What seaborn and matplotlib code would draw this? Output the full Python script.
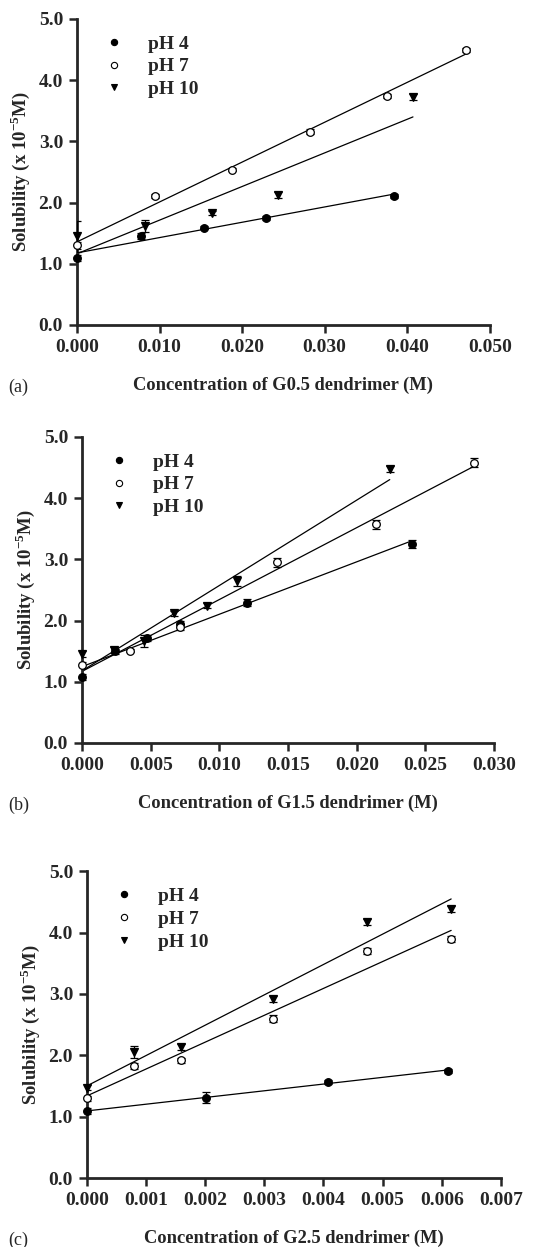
import numpy as np
import matplotlib
matplotlib.use("Agg")
import matplotlib.pyplot as plt
import seaborn as sns
from matplotlib.lines import Line2D

# ==================== data ====================
# panel (a) - G0.5
a_x_ph4 = [0.0, 0.0077, 0.0154, 0.0229, 0.0384]
a_y_ph4 = [1.09, 1.46, 1.59, 1.75, 2.11]
a_e_ph4 = [0.05, 0.05, 0.03, 0.03, 0.03]
a_x_ph7 = [0.0, 0.0094, 0.0188, 0.0282, 0.0376, 0.0471]
a_y_ph7 = [1.30, 2.11, 2.54, 3.16, 3.74, 4.49]
a_e_ph7 = [0.06, 0.03, 0.03, 0.04, 0.03, 0.03]
a_x_ph10 = [0.0, 0.0082, 0.0163, 0.0244, 0.0407]
a_y_ph10 = [1.45, 1.62, 1.83, 2.12, 3.72]
a_e_ph10 = [0.25, 0.10, 0.04, 0.05, 0.05]

# panel (b) - G1.5
b_x_ph4 = [0.0, 0.0024, 0.0047, 0.0071, 0.0120, 0.0240]
b_y_ph4 = [1.08, 1.50, 1.71, 1.95, 2.29, 3.25]
b_e_ph4 = [0.05, 0.04, 0.05, 0.05, 0.06, 0.07]
b_x_ph7 = [0.0, 0.0035, 0.0071, 0.0142, 0.0214, 0.0285]
b_y_ph7 = [1.28, 1.51, 1.90, 2.95, 3.57, 4.58]
b_e_ph7 = [0.05, 0.03, 0.05, 0.08, 0.08, 0.07]
b_x_ph10 = [0.0, 0.0023, 0.0045, 0.0067, 0.0091, 0.0113, 0.0224]
b_y_ph10 = [1.45, 1.52, 1.66, 2.12, 2.24, 2.64, 4.47]
b_e_ph10 = [0.05, 0.05, 0.10, 0.04, 0.04, 0.08, 0.05]

# panel (c) - G2.5
c_x_ph4 = [0.0, 0.00201, 0.00407, 0.00611]
c_y_ph4 = [1.09, 1.31, 1.56, 1.75]
c_e_ph4 = [0.05, 0.09, 0.03, 0.03]
c_x_ph7 = [0.0, 0.00079, 0.00159, 0.00315, 0.00474, 0.00616]
c_y_ph7 = [1.30, 1.82, 1.92, 2.60, 3.70, 3.89]
c_e_ph7 = [0.04, 0.05, 0.04, 0.06, 0.05, 0.05]
c_x_ph10 = [0.0, 0.00079, 0.00159, 0.00315, 0.00474, 0.00616]
c_y_ph10 = [1.47, 2.05, 2.14, 2.92, 4.17, 4.39]
c_e_ph10 = [0.04, 0.10, 0.05, 0.05, 0.05, 0.05]

ph_labels = ["pH 4", "pH 7", "pH 10"]
y_ticks = [0.0, 1.0, 2.0, 3.0, 4.0, 5.0]
x_ticks_a = [0.0, 0.01, 0.02, 0.03, 0.04, 0.05]
x_ticks_b = [0.0, 0.005, 0.01, 0.015, 0.02, 0.025, 0.03]
x_ticks_c = [0.0, 0.001, 0.002, 0.003, 0.004, 0.005, 0.006, 0.007]
x_titles = ["Concentration of G0.5 dendrimer (M)",
            "Concentration of G1.5 dendrimer (M)",
            "Concentration of G2.5 dendrimer (M)"]
panel_tags = ["(a)", "(b)", "(c)"]

# ==================== style ====================
sns.set_style("ticks")
plt.rcParams["font.family"] = ["Liberation Serif", "DejaVu Serif"]
plt.rcParams["mathtext.fontset"] = "custom"
plt.rcParams["mathtext.rm"] = "Liberation Serif:bold"
plt.rcParams["mathtext.bf"] = "Liberation Serif:bold"

# marker style per pH
styles = [dict(marker="o", mfc="black", mec="black"),
          dict(marker="o", mfc="white", mec="black"),
          dict(marker="v", mfc="black", mec="black")]

fig = plt.figure(figsize=(5.54, 12.47), dpi=100)
boxes = [[0.139, 0.7394, 0.745, 0.2454],
         [0.148, 0.4042, 0.744, 0.2454],
         [0.157, 0.0553, 0.747, 0.2460]]

panels = [
    ([a_x_ph4, a_x_ph7, a_x_ph10], [a_y_ph4, a_y_ph7, a_y_ph10], [a_e_ph4, a_e_ph7, a_e_ph10], x_ticks_a),
    ([b_x_ph4, b_x_ph7, b_x_ph10], [b_y_ph4, b_y_ph7, b_y_ph10], [b_e_ph4, b_e_ph7, b_e_ph10], x_ticks_b),
    ([c_x_ph4, c_x_ph7, c_x_ph10], [c_y_ph4, c_y_ph7, c_y_ph10], [c_e_ph4, c_e_ph7, c_e_ph10], x_ticks_c),
]

for k, (xs, ys, es, xt) in enumerate(panels):
    ax = fig.add_axes(boxes[k])
    for xv, yv, ev, st in zip(xs, ys, es, styles):
        # linear fit over the data range
        sns.regplot(x=np.array(xv), y=np.array(yv), ax=ax, scatter=False, ci=None,
                    truncate=True, color="black", line_kws=dict(lw=0.9))
        ax.errorbar(xv, yv, yerr=ev, fmt="none", ecolor="black", elinewidth=0.9,
                    capsize=3, capthick=0.9, zorder=3)
        ax.plot(xv, yv, ls="none", ms=5.5, mew=0.9, zorder=4, clip_on=False, **st)

    ax.set_xlim(xt[0], xt[-1])
    ax.set_ylim(0, 5)
    ax.set_xticks(xt)
    ax.set_yticks(y_ticks)
    ax.set_xticklabels(["%.3f" % v for v in xt])
    ax.set_yticklabels(["%.1f" % v for v in y_ticks])
    ax.tick_params(direction="out", length=6, width=1.8, labelsize=14, pad=4)
    for lab in ax.get_xticklabels() + ax.get_yticklabels():
        lab.set_fontweight("bold")
    sns.despine(ax=ax)
    for sp in ["left", "bottom"]:
        ax.spines[sp].set_linewidth(2)
    ax.set_xlabel(x_titles[k], fontsize=13.3, fontweight="bold", labelpad=15)
    ax.set_ylabel(r"Solubility (x 10$^{\mathbf{-5}}$M)", fontsize=13.5, fontweight="bold", labelpad=5)

    handles = [Line2D([], [], ls="none", ms=4.5, mew=0.8, **st) for st in styles]
    ax.legend(handles, ph_labels, loc="upper left", bbox_to_anchor=(0.0, 1.005),
              frameon=False, handletextpad=0.75, labelspacing=0.27,
              prop=dict(family="Liberation Serif", weight="bold", size=14))

    bbox = ax.get_position()
    fig.text(0.015, bbox.y0 - 0.05, panel_tags[k], fontsize=13, ha="left", va="center")

fig.savefig("out.png", dpi=100)
